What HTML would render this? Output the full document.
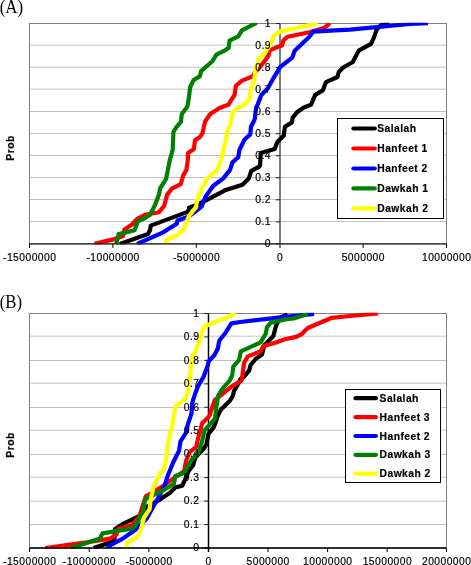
<!DOCTYPE html>
<html><head><meta charset="utf-8"><title>CDF charts</title>
<style>
html,body{margin:0;padding:0;background:#fff;}
body{width:471px;height:565px;overflow:hidden;}
svg{display:block;will-change:transform;font-family:"Liberation Sans",sans-serif;fill:#000;font-size:10.3px;letter-spacing:0.45px;}
text{stroke:#000;stroke-width:0.18px;}
text.ser{font-family:"Liberation Serif",serif;letter-spacing:0;stroke:none;}
</style></head><body>
<svg width="471" height="565" viewBox="0 0 471 565">
<defs><pattern id="dith" width="4" height="1" patternUnits="userSpaceOnUse"><rect x="0" y="0" width="4" height="1" fill="#e3e3e3"/><rect x="0" y="0" width="1" height="1" fill="#cfc890"/><rect x="2" y="0" width="1" height="1" fill="#c8c8fa"/></pattern></defs>
<rect width="471" height="565" fill="#fff"/>
<text class="ser" transform="translate(-0.3,12.5) scale(0.93,1)" font-size="18.2">(A)</text>
<text class="ser" transform="translate(-0.3,307.7) scale(0.93,1)" font-size="18">(B)</text>
<rect x="29.5" y="23.5" width="417.0" height="220.4" fill="#fff" stroke="none"/>
<rect x="30.0" y="44" width="416.0" height="1" fill="#ececec"/>
<rect x="30.0" y="45" width="416.0" height="1" fill="url(#dith)"/>
<rect x="30.0" y="66" width="416.0" height="1" fill="#ececec"/>
<rect x="30.0" y="67" width="416.0" height="1" fill="url(#dith)"/>
<rect x="30.0" y="88" width="416.0" height="1" fill="#ececec"/>
<rect x="30.0" y="89" width="416.0" height="1" fill="url(#dith)"/>
<rect x="30.0" y="111" width="416.0" height="1" fill="#c0c0c0"/>
<rect x="30.0" y="133" width="416.0" height="1" fill="#c0c0c0"/>
<rect x="30.0" y="155" width="416.0" height="1" fill="#c0c0c0"/>
<rect x="30.0" y="177" width="416.0" height="1" fill="#c0c0c0"/>
<rect x="30.0" y="199" width="416.0" height="1" fill="#c0c0c0"/>
<rect x="30.0" y="221" width="416.0" height="1" fill="#c0c0c0"/>
<rect x="29.5" y="23.5" width="417.0" height="220.4" fill="none" stroke="#808080" stroke-width="1"/>
<line x1="280.0" y1="23.5" x2="280.0" y2="247.9" stroke="#505050" stroke-width="1.5"/>
<line x1="275.8" y1="243.90" x2="280.0" y2="243.90" stroke="#202020" stroke-width="1"/>
<line x1="275.8" y1="221.86" x2="280.0" y2="221.86" stroke="#202020" stroke-width="1"/>
<line x1="275.8" y1="199.82" x2="280.0" y2="199.82" stroke="#202020" stroke-width="1"/>
<line x1="275.8" y1="177.78" x2="280.0" y2="177.78" stroke="#202020" stroke-width="1"/>
<line x1="275.8" y1="155.74" x2="280.0" y2="155.74" stroke="#202020" stroke-width="1"/>
<line x1="275.8" y1="133.70" x2="280.0" y2="133.70" stroke="#202020" stroke-width="1"/>
<line x1="275.8" y1="111.66" x2="280.0" y2="111.66" stroke="#202020" stroke-width="1"/>
<line x1="275.8" y1="89.62" x2="280.0" y2="89.62" stroke="#202020" stroke-width="1"/>
<line x1="275.8" y1="67.58" x2="280.0" y2="67.58" stroke="#202020" stroke-width="1"/>
<line x1="275.8" y1="45.54" x2="280.0" y2="45.54" stroke="#202020" stroke-width="1"/>
<line x1="275.8" y1="23.50" x2="280.0" y2="23.50" stroke="#202020" stroke-width="1"/>
<clipPath id="clip23"><rect x="29.0" y="22.8" width="418.0" height="221.6"/></clipPath>
<g clip-path="url(#clip23)">
<polyline points="119.9,243.9 148.0,234.1 150.1,230.1 150.7,225.6 188.3,211.6 189.0,207.8 196.0,205.2 205.0,200.8 225.9,189.9 242.4,184.8 248.8,178.4 251.3,170.8 259.0,166.9 260.1,165.1 260.7,153.0 274.7,149.1 277.3,142.1 283.7,135.8 284.9,126.8 291.9,122.4 292.6,117.9 297.0,112.2 303.4,107.7 311.1,104.6 312.0,102.5 315.2,94.9 322.8,90.4 326.0,82.1 337.5,77.0 338.8,71.9 343.2,67.5 352.8,62.0 358.7,50.6 371.0,43.8 374.2,36.8 376.8,29.1 381.8,24.6 389.5,23.2" fill="none" stroke="#000000" stroke-width="4.2" stroke-linejoin="round" stroke-linecap="butt"/>
<polyline points="94.5,243.9 114.2,239.1 123.1,236.0 124.4,229.6 132.0,224.5 137.1,218.8 145.0,214.8 159.0,212.2 164.1,205.9 167.3,194.4 171.8,188.7 180.7,184.2 183.2,175.3 186.4,170.2 187.8,160.0 188.0,153.1 193.8,149.2 195.0,140.3 200.0,136.9 202.5,133.1 205.1,121.7 210.2,114.0 219.1,108.3 228.7,104.5 231.2,100.0 234.6,94.9 235.8,86.0 241.6,80.9 252.4,76.4 255.6,71.9 263.2,63.0 268.3,56.0 269.6,50.3 275.0,48.1 282.0,45.6 283.3,40.5 287.7,36.7 309.4,32.2 324.7,27.7 329.8,23.3" fill="none" stroke="#ff0000" stroke-width="4.2" stroke-linejoin="round" stroke-linecap="butt"/>
<polyline points="137.1,243.9 161.5,233.2 166.7,230.1 176.8,223.7 177.5,220.5 188.3,216.7 196.0,211.0 201.7,206.4 205.3,197.0 213.1,186.0 223.3,178.4 229.9,170.1 232.5,162.4 238.2,157.3 239.5,149.7 244.6,139.5 250.3,134.4 251.0,126.8 254.8,119.1 256.1,107.6 257.5,105.0 261.3,94.9 267.7,88.5 273.4,78.3 280.1,67.2 292.2,57.7 294.7,50.7 309.4,36.7 313.2,31.6 335.0,30.3 350.0,29.7 410.0,24.0 427.9,23.2" fill="none" stroke="#0000ff" stroke-width="4.2" stroke-linejoin="round" stroke-linecap="butt"/>
<polyline points="116.2,243.9 118.7,234.1 134.6,230.2 137.8,221.3 145.0,218.0 150.1,214.8 155.2,204.6 159.0,194.4 160.3,188.0 166.0,179.1 168.6,166.4 169.8,160.0 172.7,149.9 173.4,132.0 176.6,126.9 181.0,121.8 181.7,114.2 187.4,106.6 188.7,98.9 190.2,87.0 193.5,80.1 199.9,76.2 201.1,71.1 212.6,61.0 216.4,54.6 225.0,50.3 228.8,47.7 229.5,40.7 238.4,36.3 241.9,30.4 256.8,22.7" fill="none" stroke="#008000" stroke-width="4.2" stroke-linejoin="round" stroke-linecap="butt"/>
<polyline points="165.4,243.9 166.6,240.0 178.1,234.5 183.2,230.1 189.0,216.1 196.0,207.1 197.9,196.9 205.0,182.9 206.8,178.4 215.7,171.5 217.5,169.5 221.0,159.9 225.5,142.0 227.4,130.6 230.6,124.2 232.5,112.7 238.2,107.6 244.1,105.0 249.8,98.7 250.5,89.8 254.3,79.6 255.6,69.4 258.8,59.2 265.8,51.6 270.9,43.9 273.6,36.0 275.0,34.7 280.1,31.6 317.7,23.3" fill="none" stroke="#ffff00" stroke-width="4.2" stroke-linejoin="round" stroke-linecap="butt"/>
</g>
<line x1="29.5" y1="243.9" x2="446.5" y2="243.9" stroke="#202020" stroke-width="1.3"/>
<text x="270.9" y="247.10" text-anchor="end">0</text>
<text x="270.9" y="225.06" text-anchor="end">0.1</text>
<text x="270.9" y="203.02" text-anchor="end">0.2</text>
<text x="270.9" y="180.98" text-anchor="end">0.3</text>
<text x="270.9" y="158.94" text-anchor="end">0.4</text>
<text x="270.9" y="136.90" text-anchor="end">0.5</text>
<text x="270.9" y="114.86" text-anchor="end">0.6</text>
<text x="270.9" y="92.82" text-anchor="end">0.7</text>
<text x="270.9" y="70.78" text-anchor="end">0.8</text>
<text x="270.9" y="48.74" text-anchor="end">0.9</text>
<text x="270.9" y="26.70" text-anchor="end">1</text>
<line x1="29.5" y1="243.9" x2="29.5" y2="247.9" stroke="#000" stroke-width="1"/>
<text x="29.7" y="260.7" text-anchor="middle">-15000000</text>
<line x1="112.9" y1="243.9" x2="112.9" y2="247.9" stroke="#000" stroke-width="1"/>
<text x="113.1" y="260.7" text-anchor="middle">-10000000</text>
<line x1="196.3" y1="243.9" x2="196.3" y2="247.9" stroke="#000" stroke-width="1"/>
<text x="196.5" y="260.7" text-anchor="middle">-5000000</text>
<text x="280.1" y="260.7" text-anchor="middle">0</text>
<line x1="363.1" y1="243.9" x2="363.1" y2="247.9" stroke="#000" stroke-width="1"/>
<text x="363.3" y="260.7" text-anchor="middle">5000000</text>
<line x1="446.5" y1="243.9" x2="446.5" y2="247.9" stroke="#000" stroke-width="1"/>
<text x="446.7" y="260.7" text-anchor="middle">10000000</text>
<text transform="translate(14.4,148) rotate(-90)" text-anchor="middle" font-weight="bold">Prob</text>
<rect x="337.5" y="118.5" width="106.0" height="100.0" fill="#fff" stroke="#000" stroke-width="1"/>
<line x1="353.4" y1="128.5" x2="374.8" y2="128.5" stroke="#000000" stroke-width="4.2" stroke-linecap="round"/>
<text x="377.3" y="132.1" font-weight="bold">Salalah</text>
<line x1="353.4" y1="148.5" x2="374.8" y2="148.5" stroke="#ff0000" stroke-width="4.2" stroke-linecap="round"/>
<text x="377.3" y="152.1" font-weight="bold">Hanfeet 1</text>
<line x1="353.4" y1="168.5" x2="374.8" y2="168.5" stroke="#0000ff" stroke-width="4.2" stroke-linecap="round"/>
<text x="377.3" y="172.1" font-weight="bold">Hanfeet 2</text>
<line x1="353.4" y1="188.4" x2="374.8" y2="188.4" stroke="#008000" stroke-width="4.2" stroke-linecap="round"/>
<text x="377.3" y="192.0" font-weight="bold">Dawkah 1</text>
<line x1="353.4" y1="208.3" x2="374.8" y2="208.3" stroke="#ffff00" stroke-width="4.2" stroke-linecap="round"/>
<text x="377.3" y="211.9" font-weight="bold">Dawkah 2</text>
<rect x="29.5" y="313.5" width="417.0" height="234.5" fill="#fff" stroke="none"/>
<rect x="30.0" y="335" width="416.0" height="1" fill="#ececec"/>
<rect x="30.0" y="336" width="416.0" height="1" fill="url(#dith)"/>
<rect x="30.0" y="360" width="416.0" height="1" fill="#c0c0c0"/>
<rect x="30.0" y="382" width="416.0" height="1" fill="#ececec"/>
<rect x="30.0" y="383" width="416.0" height="1" fill="url(#dith)"/>
<rect x="30.0" y="407" width="416.0" height="1" fill="#c0c0c0"/>
<rect x="30.0" y="429" width="416.0" height="1" fill="#ececec"/>
<rect x="30.0" y="430" width="416.0" height="1" fill="url(#dith)"/>
<rect x="30.0" y="454" width="416.0" height="1" fill="#c0c0c0"/>
<rect x="30.0" y="476" width="416.0" height="1" fill="#ececec"/>
<rect x="30.0" y="477" width="416.0" height="1" fill="url(#dith)"/>
<rect x="30.0" y="500" width="416.0" height="1" fill="#ececec"/>
<rect x="30.0" y="501" width="416.0" height="1" fill="url(#dith)"/>
<rect x="30.0" y="524" width="416.0" height="1" fill="#c0c0c0"/>
<rect x="29.5" y="313.5" width="417.0" height="234.5" fill="none" stroke="#808080" stroke-width="1"/>
<line x1="208.5" y1="313.5" x2="208.5" y2="552.0" stroke="#000000" stroke-width="1.5"/>
<line x1="204.3" y1="548.00" x2="208.5" y2="548.00" stroke="#202020" stroke-width="1"/>
<line x1="204.3" y1="524.55" x2="208.5" y2="524.55" stroke="#202020" stroke-width="1"/>
<line x1="204.3" y1="501.10" x2="208.5" y2="501.10" stroke="#202020" stroke-width="1"/>
<line x1="204.3" y1="477.65" x2="208.5" y2="477.65" stroke="#202020" stroke-width="1"/>
<line x1="204.3" y1="454.20" x2="208.5" y2="454.20" stroke="#202020" stroke-width="1"/>
<line x1="204.3" y1="430.75" x2="208.5" y2="430.75" stroke="#202020" stroke-width="1"/>
<line x1="204.3" y1="407.30" x2="208.5" y2="407.30" stroke="#202020" stroke-width="1"/>
<line x1="204.3" y1="383.85" x2="208.5" y2="383.85" stroke="#202020" stroke-width="1"/>
<line x1="204.3" y1="360.40" x2="208.5" y2="360.40" stroke="#202020" stroke-width="1"/>
<line x1="204.3" y1="336.95" x2="208.5" y2="336.95" stroke="#202020" stroke-width="1"/>
<line x1="204.3" y1="313.50" x2="208.5" y2="313.50" stroke="#202020" stroke-width="1"/>
<clipPath id="clip313"><rect x="29.0" y="312.8" width="418.0" height="235.7"/></clipPath>
<g clip-path="url(#clip313)">
<polyline points="93.7,548.0 110.0,542.4 114.5,539.9 115.1,529.0 124.0,523.3 138.7,516.3 146.9,506.8 158.4,500.4 170.0,492.7 175.3,487.5 182.3,485.6 185.5,478.6 188.7,471.0 193.1,465.2 195.7,456.9 203.3,449.3 206.5,444.2 208.4,434.0 213.5,427.6 215.8,422.0 217.6,416.1 220.8,409.8 229.7,400.9 232.9,395.8 234.1,390.7 238.0,384.3 240.5,379.0 244.1,376.8 249.2,370.4 250.5,365.3 255.6,359.0 262.0,354.5 264.5,344.9 273.4,336.0 276.0,325.8 279.8,318.2 287.3,314.0" fill="none" stroke="#000000" stroke-width="4.2" stroke-linejoin="round" stroke-linecap="butt"/>
<polyline points="45.3,548.0 84.8,542.7 110.0,538.6 116.4,534.8 117.6,529.0 131.7,525.2 139.3,516.9 141.2,510.6 145.8,496.3 152.0,492.7 162.5,486.2 171.5,479.9 184.2,471.0 186.1,460.8 189.9,451.8 196.3,446.8 198.2,437.8 200.8,428.9 202.0,423.5 209.3,416.1 211.8,408.5 215.0,399.6 222.0,394.5 231.0,386.8 236.1,383.7 241.6,380.5 242.6,374.0 244.1,362.8 247.9,356.4 260.7,351.3 263.2,346.2 276.0,342.4 285.0,339.2 296.2,336.9 301.3,334.4 307.7,328.0 331.9,317.8 350.0,316.0 378.2,313.5" fill="none" stroke="#ff0000" stroke-width="4.2" stroke-linejoin="round" stroke-linecap="butt"/>
<polyline points="106.4,547.3 122.7,538.6 135.5,529.7 146.9,518.2 153.9,505.5 161.0,492.7 164.8,485.1 167.6,476.0 173.4,462.0 179.1,450.6 180.4,441.7 186.8,431.5 187.6,425.1 191.5,413.6 192.1,403.4 195.3,393.2 197.8,386.8 203.6,376.7 207.4,366.5 208.7,361.4 214.4,355.0 217.9,348.4 219.2,340.8 225.0,333.5 231.4,323.3 240.3,322.0 285.0,316.9 314.1,314.0" fill="none" stroke="#0000ff" stroke-width="4.2" stroke-linejoin="round" stroke-linecap="butt"/>
<polyline points="70.8,548.0 84.8,543.5 100.0,538.4 102.6,533.3 110.0,532.2 132.9,528.4 137.4,522.0 143.1,511.8 145.0,499.3 158.4,492.7 163.8,490.0 174.0,483.7 175.3,476.0 184.2,472.9 187.4,467.1 191.8,459.5 198.2,453.1 202.0,441.7 204.6,430.2 209.3,425.1 215.0,418.7 216.3,407.2 218.2,395.8 222.0,389.4 229.7,380.5 232.2,375.4 233.3,366.6 239.0,360.2 240.9,351.3 260.7,342.4 265.8,333.5 267.0,327.1 270.9,322.6 285.0,319.5 293.7,318.5 307.7,314.0" fill="none" stroke="#008000" stroke-width="4.2" stroke-linejoin="round" stroke-linecap="butt"/>
<polyline points="126.3,548.0 127.2,542.4 137.4,537.3 141.2,528.4 143.8,518.2 149.5,509.3 150.8,499.1 153.3,487.6 156.5,480.0 160.0,473.5 163.8,469.7 166.4,458.2 167.6,445.5 170.2,432.7 172.7,423.8 174.5,412.0 175.9,405.7 180.0,403.4 185.7,398.3 188.3,390.7 188.9,380.5 190.8,370.3 191.5,360.1 193.4,355.0 198.8,343.3 203.9,326.8 219.2,320.4 225.0,318.2 235.7,313.5" fill="none" stroke="#ffff00" stroke-width="4.2" stroke-linejoin="round" stroke-linecap="butt"/>
</g>
<line x1="29.5" y1="548.0" x2="446.5" y2="548.0" stroke="#000000" stroke-width="1.3"/>
<text x="199.4" y="551.20" text-anchor="end">0</text>
<text x="199.4" y="527.75" text-anchor="end">0.1</text>
<text x="199.4" y="504.30" text-anchor="end">0.2</text>
<text x="199.4" y="480.85" text-anchor="end">0.3</text>
<text x="199.4" y="457.40" text-anchor="end">0.4</text>
<text x="199.4" y="433.95" text-anchor="end">0.5</text>
<text x="199.4" y="410.50" text-anchor="end">0.6</text>
<text x="199.4" y="387.05" text-anchor="end">0.7</text>
<text x="199.4" y="363.60" text-anchor="end">0.8</text>
<text x="199.4" y="340.15" text-anchor="end">0.9</text>
<text x="199.4" y="316.70" text-anchor="end">1</text>
<line x1="29.5" y1="548.0" x2="29.5" y2="552.0" stroke="#000" stroke-width="1"/>
<text x="29.7" y="564.6" text-anchor="middle">-15000000</text>
<line x1="89.2" y1="548.0" x2="89.2" y2="552.0" stroke="#000" stroke-width="1"/>
<text x="89.4" y="564.6" text-anchor="middle">-10000000</text>
<line x1="148.8" y1="548.0" x2="148.8" y2="552.0" stroke="#000" stroke-width="1"/>
<text x="149.0" y="564.6" text-anchor="middle">-5000000</text>
<text x="208.7" y="564.6" text-anchor="middle">0</text>
<line x1="268.0" y1="548.0" x2="268.0" y2="552.0" stroke="#000" stroke-width="1"/>
<text x="268.2" y="564.6" text-anchor="middle">5000000</text>
<line x1="327.6" y1="548.0" x2="327.6" y2="552.0" stroke="#000" stroke-width="1"/>
<text x="327.8" y="564.6" text-anchor="middle">10000000</text>
<line x1="387.2" y1="548.0" x2="387.2" y2="552.0" stroke="#000" stroke-width="1"/>
<text x="387.4" y="564.6" text-anchor="middle">15000000</text>
<line x1="446.5" y1="548.0" x2="446.5" y2="552.0" stroke="#000" stroke-width="1"/>
<text x="446.7" y="564.6" text-anchor="middle">20000000</text>
<text transform="translate(14.4,445) rotate(-90)" text-anchor="middle" font-weight="bold">Prob</text>
<rect x="345.5" y="389.5" width="95.0" height="93.0" fill="#fff" stroke="#000" stroke-width="1"/>
<line x1="355.5" y1="398.2" x2="375.9" y2="398.2" stroke="#000000" stroke-width="4.2" stroke-linecap="round"/>
<text x="379.6" y="401.8" font-weight="bold">Salalah</text>
<line x1="355.5" y1="417.2" x2="375.9" y2="417.2" stroke="#ff0000" stroke-width="4.2" stroke-linecap="round"/>
<text x="379.6" y="420.8" font-weight="bold">Hanfeet 3</text>
<line x1="355.5" y1="436.0" x2="375.9" y2="436.0" stroke="#0000ff" stroke-width="4.2" stroke-linecap="round"/>
<text x="379.6" y="439.6" font-weight="bold">Hanfeet 2</text>
<line x1="355.5" y1="454.8" x2="375.9" y2="454.8" stroke="#008000" stroke-width="4.2" stroke-linecap="round"/>
<text x="379.6" y="458.4" font-weight="bold">Dawkah 3</text>
<line x1="355.5" y1="473.6" x2="375.9" y2="473.6" stroke="#ffff00" stroke-width="4.2" stroke-linecap="round"/>
<text x="379.6" y="477.2" font-weight="bold">Dawkah 2</text>
</svg>
</body></html>
